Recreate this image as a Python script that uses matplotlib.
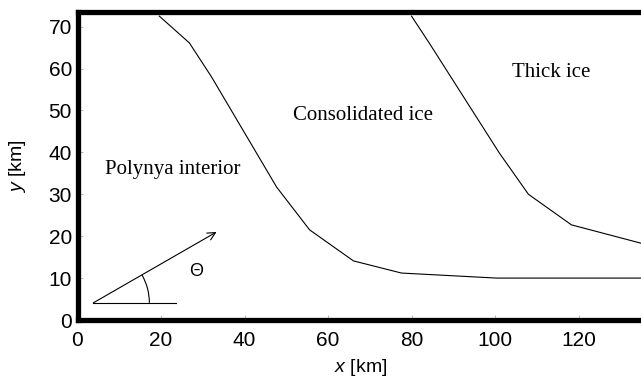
import numpy as np
import matplotlib.pyplot as plt
from matplotlib.patches import Arc

plt.rcParams['font.family'] = ['Liberation Sans', 'DejaVu Sans']
plt.rcParams['mathtext.fontset'] = 'custom'
plt.rcParams['mathtext.it'] = 'Liberation Sans:italic'
plt.rcParams['mathtext.rm'] = 'Liberation Sans'

# ice-edge boundaries [km]
polynya_x = [19.6, 26.8, 32.1, 47.7, 55.6, 66.1, 77.6, 100.4, 140.0]
polynya_y = [72.5, 66.1, 58.0, 31.7, 21.5, 14.1, 11.2, 10.0, 10.0]
thick_x = [80.0, 84.3, 101.0, 108.0, 118.3, 140.0]
thick_y = [72.5, 66.0, 39.9, 30.0, 22.7, 17.0]

region_labels = ["Polynya interior", "Consolidated ice", "Thick ice"]
region_x = [6.5, 51.5, 104.0]
region_y = [35.8, 48.9, 59.0]

# wind direction sketch
origin = (3.8, 4.1)
ref_end = 23.5
arrow_tip = (33.3, 21.0)
xticks = [0, 20, 40, 60, 80, 100, 120]
yticks = [0, 10, 20, 30, 40, 50, 60, 70]

fig = plt.figure(figsize=(6.41, 3.8), dpi=100)
ax = fig.add_axes([77.5 / 641, 60 / 380, 584.5 / 641, 308.5 / 380])

ax.plot(polynya_x, polynya_y, color='black', lw=0.8)
ax.plot(thick_x, thick_y, color='black', lw=0.8)

serif = ['Liberation Serif', 'DejaVu Serif']
for lab, tx, ty in zip(region_labels, region_x, region_y):
    ax.text(tx, ty, lab, family=serif, fontsize=15, ha='left', va='center')

ax.plot([origin[0], ref_end], [origin[1], origin[1]], color='black', lw=0.8)
ax.annotate('', xy=arrow_tip, xytext=origin,
            arrowprops=dict(arrowstyle='->', color='black', lw=0.8,
                            shrinkA=0, shrinkB=0, mutation_scale=14))
ang = np.degrees(np.arctan2((arrow_tip[1] - origin[1]) * 4.19,
                            (arrow_tip[0] - origin[0]) * 4.175))
r = 56
ax.add_patch(Arc(origin, 2 * r / 4.175, 2 * r / 4.19, theta1=0, theta2=ang,
                 color='black', lw=0.8))
ax.text(28.5, 11.5, '\u0398', fontsize=13, ha='center', va='center')

ax.set_xlim(0, 140)
ax.set_ylim(0, 73.6)
ax.set_xticks(xticks)
ax.set_yticks(yticks)
ax.tick_params(direction='in', length=3.5, width=0.5, color='#999999',
               labelsize=15)
ax.tick_params(axis='x', pad=8)
ax.tick_params(axis='y', pad=4)
for side in ['left', 'bottom', 'top', 'right']:
    ax.spines[side].set_linewidth(3.8)

ax.set_xlabel(r'$x$ [km]', fontsize=14)
ax.set_ylabel(r'$y$ [km]', fontsize=14)
ax.xaxis.set_label_coords(0.484, -0.12)
ax.yaxis.set_label_coords(-0.085, 0.5)

fig.savefig('out.png', dpi=100)
